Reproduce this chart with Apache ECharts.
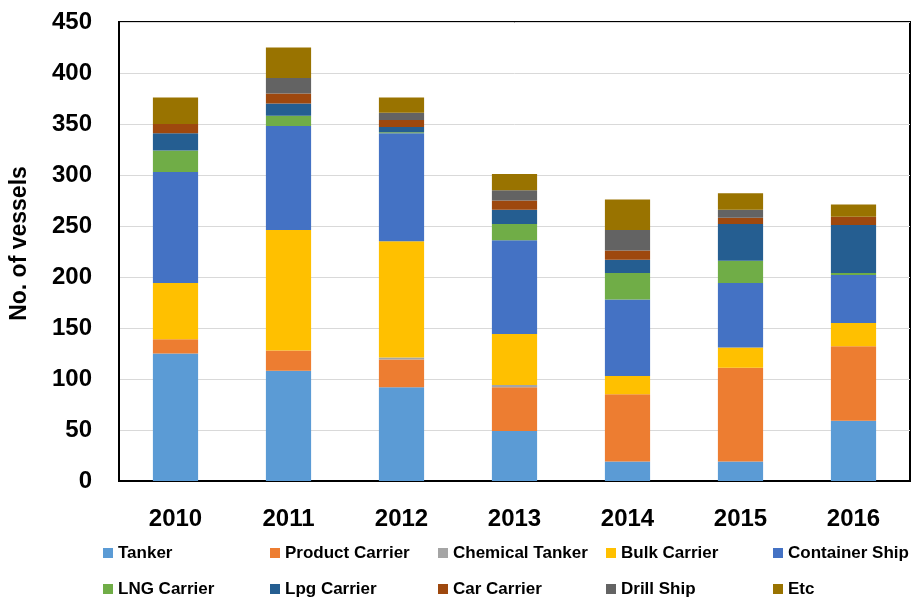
<!DOCTYPE html>
<html>
<head>
<meta charset="utf-8">
<script src="https://cdn.jsdelivr.net/npm/echarts@6/dist/echarts.min.js"></script>
<style>html,body{margin:0;padding:0;background:#fff}#c{width:924px;height:608px}</style>
</head>
<body>
<div id="c"></div>
<script>
const years = ['2010','2011','2012','2013','2014','2015','2016'];
const seriesNames = ['Tanker','Product Carrier','Chemical Tanker','Bulk Carrier','Container Ship','LNG Carrier','Lpg Carrier','Car Carrier','Drill Ship','Etc'];
const tanker    = [125,108, 92, 49, 19, 19, 59];
const product   = [ 14, 20, 27, 43, 66, 92, 73];
const chemical  = [  0,  0,  2,  2,  0,  0,  0];
const bulk      = [ 55,118,114, 50, 18, 20, 23];
const container = [109,102,106, 92, 75, 63, 47];
const lng       = [ 21, 10,  1, 16, 26, 22,  2];
const lpg       = [ 17, 12,  5, 14, 13, 36, 47];
const car       = [  9, 10,  7,  9,  9,  6,  8];
const drill     = [  0, 15,  7, 10, 20,  8,  0];
const etc       = [ 26, 30, 15, 16, 30, 16, 12];
const colors = ['#5B9BD5','#ED7D31','#A5A5A5','#FFC000','#4472C4','#70AD47','#255E91','#9E480E','#636363','#997300'];
const values = [tanker, product, chemical, bulk, container, lng, lpg, car, drill, etc];

const colX = [103, 270, 438, 606, 773];
const rowY = [543, 579];
const legends = seriesNames.map((n, i) => ({
  data: [n],
  left: colX[i % 5],
  top: rowY[Math.floor(i / 5)],
  padding: 0,
  itemWidth: 10,
  itemHeight: 10,
  itemGap: 0,
  icon: 'rect',
  textStyle: {fontFamily: '"Liberation Sans", Arial, sans-serif', fontWeight: 'bold', fontSize: 17, color: '#000', padding: [0,0,0,0], lineHeight: 20}
}));

const chart = echarts.init(document.getElementById('c'), null, {renderer: 'canvas'});
chart.setOption({
  animation: false,
  color: colors,
  grid: {left: 118, right: 14, top: 22, bottom: 127, show: true, borderColor: '#000', borderWidth: 2, backgroundColor: 'transparent'},
  legend: legends,
  xAxis: {
    type: 'category',
    data: years,
    axisLine: {lineStyle: {color: '#000', width: 2}},
    axisTick: {show: false},
    axisLabel: {color: '#000', fontFamily: '"Liberation Sans", Arial, sans-serif', fontWeight: 'bold', fontSize: 24, margin: 26}
  },
  yAxis: {
    type: 'value',
    min: 0, max: 450, interval: 50,
    name: 'No. of vessels',
    nameLocation: 'middle',
    nameGap: 88,
    nameTextStyle: {color: '#000', fontFamily: '"Liberation Sans", Arial, sans-serif', fontWeight: 'bold', fontSize: 23, padding: [0,0,0,16]},
    axisLine: {show: true, lineStyle: {color: '#000', width: 2}},
    axisTick: {show: false},
    splitLine: {lineStyle: {color: '#D9D9D9', width: 1}},
    axisLabel: {color: '#000', fontFamily: '"Liberation Sans", Arial, sans-serif', fontWeight: 'bold', fontSize: 24, margin: 27}
  },
  series: seriesNames.map((n, i) => ({
    name: n,
    type: 'bar',
    stack: 'total',
    barWidth: '40%',
    data: values[i],
    itemStyle: {color: colors[i]}
  }))
});
</script>
</body>
</html>
